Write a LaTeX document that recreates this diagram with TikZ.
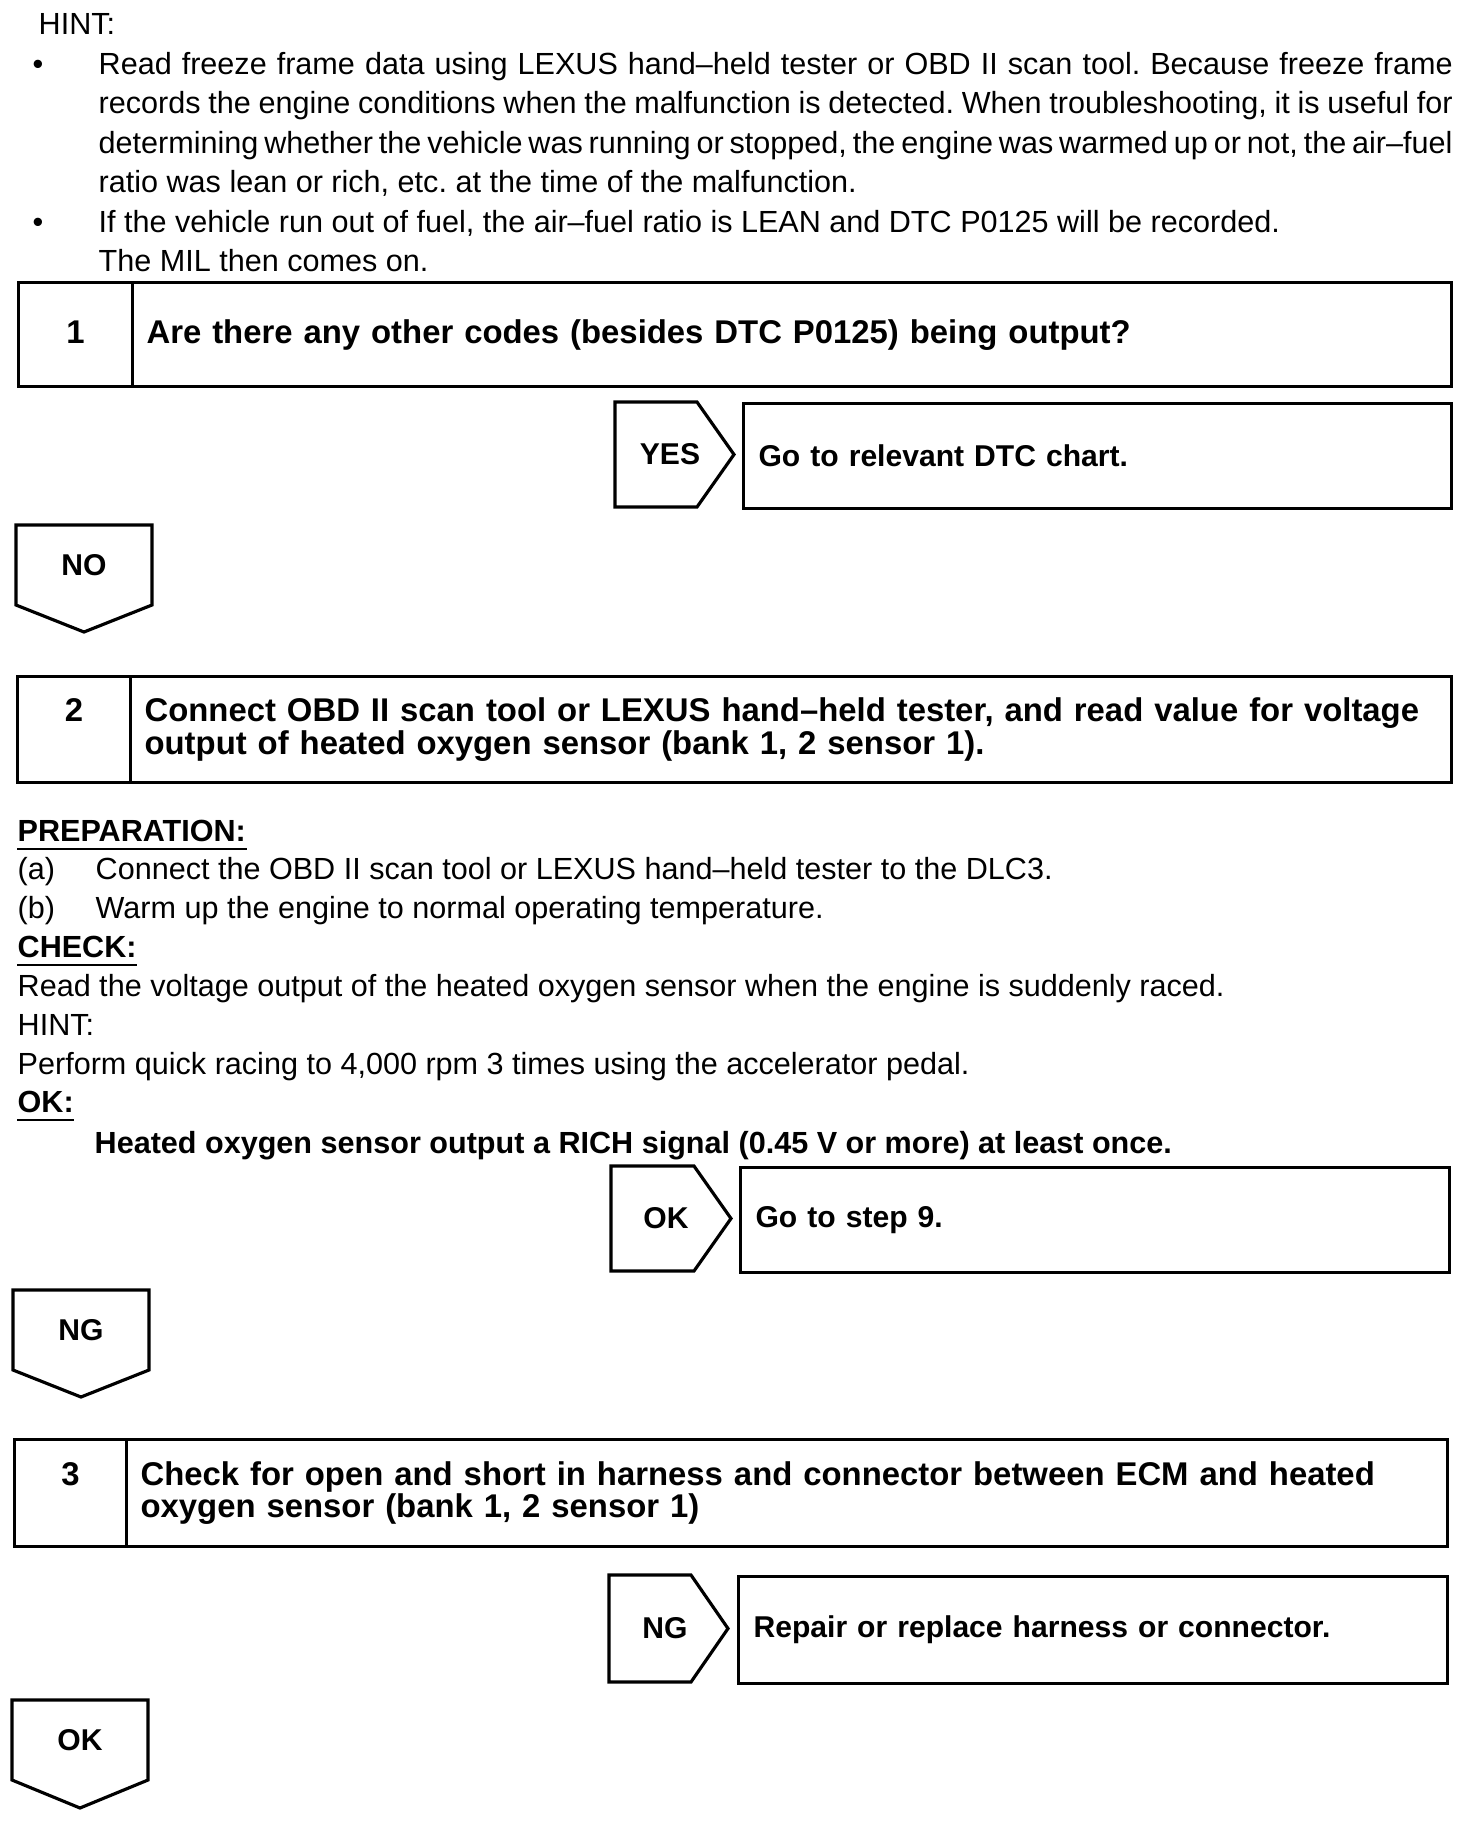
\documentclass[tikz,border=0pt]{standalone}
\usepackage{fontspec}
\setmainfont{Liberation Sans}
\newcommand{\bodysize}{\fontsize{8.7pt}{11.24pt}\selectfont}
\newcommand{\headsize}{\fontsize{9.35pt}{9.25pt}\selectfont\bfseries}
\newcommand{\tagsize}{\fontsize{8.56pt}{10pt}\selectfont\bfseries}
\frenchspacing
\hyphenpenalty=10000

\begin{document}
\begin{tikzpicture}[
  x=0.1mm, y=-0.1mm,
  every node/.style={inner sep=0pt},
  txt/.style={anchor=base west, font=\bodysize},
  para/.style={txt, text width=135.4mm, align=justify},
  bold/.style={txt, font=\bodysize\bfseries},
  dot/.style={anchor=base, font=\bodysize},
  frame/.style={draw, line width=0.9pt},
  numcell/.style={frame, anchor=north west},
  numtext/.style={anchor=base, font=\headsize},
  askcell/.style={frame, anchor=north west, font=\headsize, align=left, inner xsep=1.4mm},
  gocell/.style={frame, anchor=north west, font=\tagsize, align=left, inner xsep=1.5mm},
  tag/.style={font=\tagsize},
  uline/.style={line width=0.7pt}
]
  \useasboundingbox (0,0) rectangle (1472,1822);

  % Hint
  \node[txt] (hint) at (38,34) {HINT:};
  \node[dot] (dot1) at (38,74) {•};
  \node[para] (hint1) at (98,74) {Read freeze frame data using LEXUS hand--held tester or OBD II scan tool. Because freeze frame\linebreak records the engine conditions when the malfunction is detected. When troubleshooting, it is useful for\linebreak determining whether the vehicle was running or stopped, the engine was warmed up or not, the air--fuel\linebreak ratio was lean or rich, etc. at the time of the malfunction.};
  \node[dot] (dot2) at (38,232) {•};
  \node[para] (hint2) at (98,232) {If the vehicle run out of fuel, the air--fuel ratio is LEAN and DTC P0125 will be recorded.\newline The MIL then comes on.};

  % Step 1
  \node[numcell, minimum width=11.4mm, minimum height=10.4mm] (n1) at (17,281) {};
  \node[askcell, minimum width=131.9mm, text width=129.1mm, minimum height=10.4mm] (q1) at (131,281) {Are there any other codes (besides DTC P0125) being output?};
  \node[numtext] (d1) at (n1.center |- q1.base) {1};
  \draw[frame] (615,402) -- (697,402) -- (734,454.5) -- (697,507) -- (615,507) -- cycle;
  \node[tag] (yes1) at (670,454.5) {YES};
  \node[gocell, minimum width=70.8mm, text width=67.8mm, minimum height=10.5mm] (go1) at (742,402) {Go to relevant DTC chart.};
  \draw[frame] (16,525) -- (152,525) -- (152,605) -- (84,632) -- (16,605) -- cycle;
  \node[tag] (no1) at (84,565) {NO};

  % Step 2
  \node[numcell, minimum width=11.3mm, minimum height=10.6mm] (n2) at (16,675) {};
  \node[askcell, minimum width=132.1mm, text width=129.3mm, minimum height=10.6mm] (q2) at (129,675) {Connect OBD II scan tool or LEXUS hand--held tester, and read value for voltage\\output of heated oxygen sensor (bank 1, 2 sensor 1).};
  \node[numtext] (d2) at (n2.center |- q2.base) {2};

  \node[bold] (prep) at (17,841) {PREPARATION:};
  \draw[uline] ([yshift=-2.3pt]prep.base west) -- ([yshift=-2.3pt]prep.base east);
  \node[txt] (pa) at (17,879) {(a)};
  \node[txt] (pa1) at (95,879) {Connect the OBD II scan tool or LEXUS hand--held tester to the DLC3.};
  \node[txt] (pb) at (17,918) {(b)};
  \node[txt] (pb1) at (95,918) {Warm up the engine to normal operating temperature.};
  \node[bold] (check) at (17,957) {CHECK:};
  \draw[uline] ([yshift=-2.3pt]check.base west) -- ([yshift=-2.3pt]check.base east);
  \node[txt] (check1) at (17,996) {Read the voltage output of the heated oxygen sensor when the engine is suddenly raced.};
  \node[txt] (hint3) at (17,1035) {HINT:};
  \node[txt] (hint4) at (17,1074) {Perform quick racing to 4,000 rpm 3 times using the accelerator pedal.};
  \node[bold] (ok) at (17,1112) {OK:};
  \draw[uline] ([yshift=-2.3pt]ok.base west) -- ([yshift=-2.3pt]ok.base east);
  \node[bold] (ok1) at (94,1153) {Heated oxygen sensor output a RICH signal (0.45 V or more) at least once.};

  \draw[frame] (611,1166) -- (694,1166) -- (731,1218.5) -- (694,1271) -- (611,1271) -- cycle;
  \node[tag] (ok2) at (666,1218.5) {OK};
  \node[gocell, minimum width=70.9mm, text width=67.9mm, minimum height=10.5mm] (go2) at (739,1166) {Go to step 9.};
  \draw[frame] (13,1290) -- (149,1290) -- (149,1370) -- (81,1397) -- (13,1370) -- cycle;
  \node[tag] (ng2) at (81,1330) {NG};

  % Step 3
  \node[numcell, minimum width=11.2mm, minimum height=10.7mm] (n3) at (13,1438) {};
  \node[askcell, minimum width=132.1mm, text width=129.3mm, minimum height=10.7mm] (q3) at (125,1438) {Check for open and short in harness and connector between ECM and heated\\oxygen sensor (bank 1, 2 sensor 1)};
  \node[numtext] (d3) at (n3.center |- q3.base) {3};
  \draw[frame] (609,1575) -- (691,1575) -- (728,1628.5) -- (691,1682) -- (609,1682) -- cycle;
  \node[tag] (ng3) at (665,1628.5) {NG};
  \node[gocell, minimum width=70.9mm, text width=67.9mm, minimum height=10.7mm] (go3) at (737,1575) {Repair or replace harness or connector.};
  \draw[frame] (12,1700) -- (148,1700) -- (148,1780) -- (80,1808) -- (12,1780) -- cycle;
  \node[tag] (ok3) at (80,1740) {OK};

\end{tikzpicture}
\end{document}
